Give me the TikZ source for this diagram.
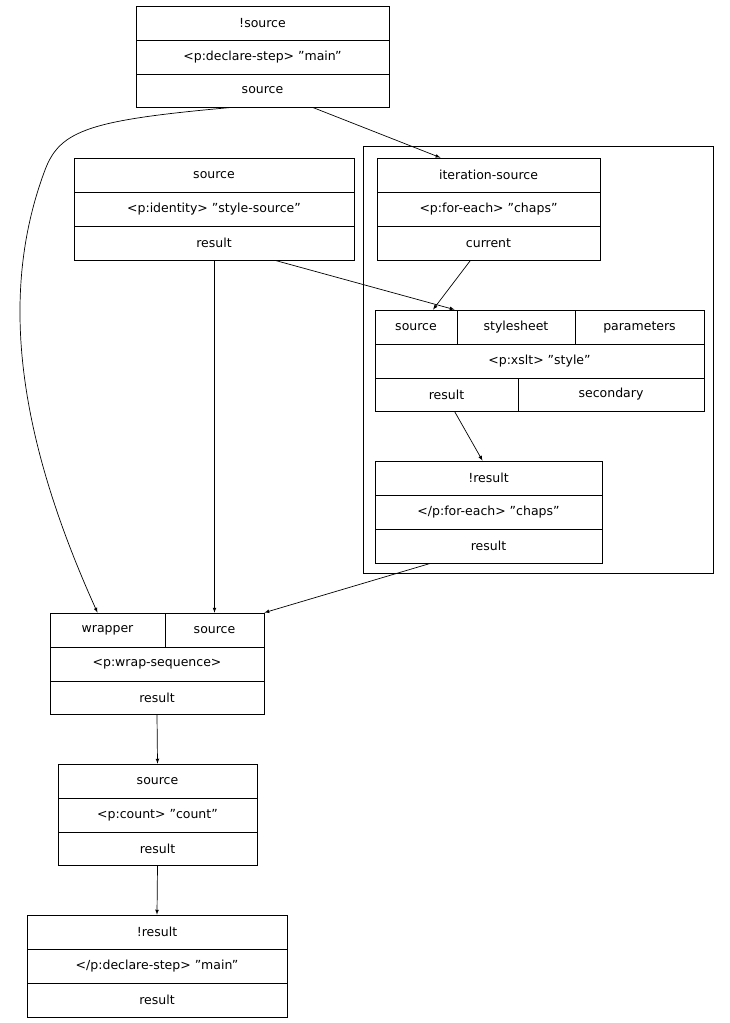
\documentclass[tikz,border=0pt]{standalone}
\usepackage{fontspec}
\setmainfont{DejaVu Sans}
\usetikzlibrary{positioning, calc}

\begin{document}
\begin{tikzpicture}[x=1pt, y=-1pt, font=\fontsize{12.5}{14}\selectfont]
  \newcommand\cell[6]{%
    \pgfmathsetmacro\cw{#4-#2}\pgfmathsetmacro\ch{#5-#3}%
    \node[cell, minimum width=\cw pt, minimum height=\ch pt] (#1) at ({(#2+#4)/2}, {(#3+#5)/2}) {#6};}

  \tikzset{cell/.style={draw, inner sep=0pt, line width=0.7pt}}
  \tikzset{ptr/.style={->, >=latex, line width=0.7pt}}

  \useasboundingbox (0, 0) rectangle (730, 1023);

  % cluster
  \draw[line width=0.7pt] (363, 146) rectangle (713, 573);

  % main step
  \cell{main-in}{136}{6}{389}{40}{!source}
  \cell{main}{136}{40}{389}{74}{<p:declare-step> "main"}
  \cell{main-out}{136}{74}{389}{107}{source}

  % identity
  \cell{id-in}{74}{158}{354}{192}{source}
  \cell{id}{74}{192}{354}{226}{<p:identity> "style-source"}
  \cell{id-out}{74}{226}{354}{260}{result}

  % for-each
  \cell{fe-in}{377}{158}{600}{192}{iteration-source}
  \cell{fe}{377}{192}{600}{226}{<p:for-each> "chaps"}
  \cell{fe-out}{377}{226}{600}{260}{current}

  % xslt
  \cell{xs-src}{375}{310}{457}{344}{source}
  \cell{xs-ss}{457}{310}{575}{344}{stylesheet}
  \cell{xs-par}{575}{310}{704}{344}{parameters}
  \cell{xs}{375}{344}{704}{378}{<p:xslt> "style"}
  \cell{xs-res}{375}{378}{518}{411}{result}
  \cell{xs-sec}{518}{378}{704}{411}{secondary}

  % end for-each
  \cell{efe-in}{375}{461}{602}{495}{!result}
  \cell{efe}{375}{495}{602}{529}{</p:for-each> "chaps"}
  \cell{efe-out}{375}{529}{602}{563}{result}

  % wrap-sequence
  \cell{ws-wr}{50}{613}{165}{647}{wrapper}
  \cell{ws-src}{165}{613}{264}{647}{source}
  \cell{ws}{50}{647}{264}{681}{<p:wrap-sequence>}
  \cell{ws-out}{50}{681}{264}{714}{result}

  % count
  \cell{ct-in}{58}{764}{257}{798}{source}
  \cell{ct}{58}{798}{257}{832}{<p:count> "count"}
  \cell{ct-out}{58}{832}{257}{865}{result}

  % end main
  \cell{em-in}{27}{915}{287}{949}{!result}
  \cell{em}{27}{949}{287}{983}{</p:declare-step> "main"}
  \cell{em-out}{27}{983}{287}{1017}{result}

  % edges
  \draw[ptr] ([xshift=-30pt]main-out.south) .. controls (90, 120) and (60, 130) .. (45, 170)
    .. controls (0, 290) and (15, 430) .. ([xshift=-10pt]ws-wr.north);
  \draw[ptr] ([xshift=50pt]main-out.south) -- ([xshift=-48pt]fe-in.north);
  \draw[ptr] ([xshift=61pt]id-out.south) -- ([xshift=-2pt]xs-ss.north west);
  \draw[ptr] ([xshift=-18pt]fe-out.south) -- ([xshift=17pt]xs-src.north);
  \draw[ptr] ([xshift=8pt]xs-res.south) -- ([xshift=-6pt]efe-in.north);
  \draw[ptr] (id-out.south -| ws-src.north) -- (ws-src.north);
  \draw[ptr] ([xshift=-58pt]efe-out.south) -- (ws-src.north east);
  \draw[ptr] (ws-out.south) -- (ct-in.north);
  \draw[ptr] (ct-out.south) -- (em-in.north);
\end{tikzpicture}
\end{document}
